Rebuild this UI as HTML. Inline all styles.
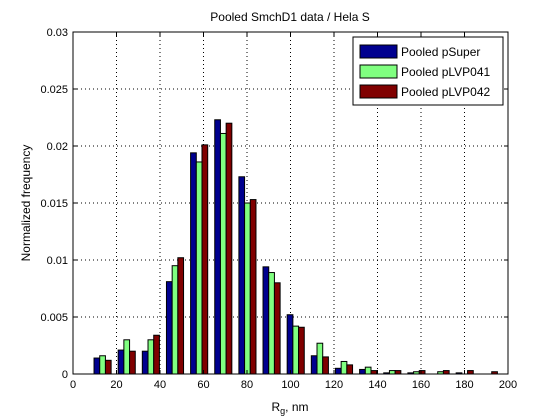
<!DOCTYPE html>
<html><head><meta charset="utf-8"><style>
body{margin:0;background:#fff;}
svg{display:block;font-family:"Liberation Sans",Arial,sans-serif;}
</style></head><body>
<svg id="chart" width="560" height="420" viewBox="0 0 560 420">
<rect x="0" y="0" width="560" height="420" fill="#fff"/>
<text x="290" y="21" font-size="12" text-anchor="middle">Pooled SmchD1 data / Hela S</text>
<g id="grid"></g>
<g id="bars"></g>
<rect x="73" y="32" width="435" height="342" fill="none" stroke="#000" stroke-width="1"/>
<g id="ticks"></g>
<text x="290" y="411" font-size="12" text-anchor="middle">R<tspan font-size="9" dy="3">g</tspan><tspan dy="-3">, nm</tspan></text>
<text transform="translate(30,203) rotate(-90)" font-size="12" text-anchor="middle">Normalized frequency</text>
<g id="legend">
<rect x="353" y="37" width="150" height="68" fill="#fff" stroke="#000"/>
</g>
</svg>
<script>
const centers=[13.6,24.7,35.8,46.9,58,69.1,80.2,91.3,102.4,113.5,124.6,135.7,146.8,157.9,169,180.1,191.2];
const seriesNames=["Pooled pSuper","Pooled pLVP041","Pooled pLVP042"];
const pSuper=[0.0014,0.0021,0.0020,0.0081,0.0194,0.0223,0.0173,0.0094,0.0052,0.0016,0.0005,0.0004,0.0001,0.0001,0,0.0001,0];
const pLVP041=[0.0016,0.0030,0.0030,0.0095,0.0186,0.0211,0.0150,0.0089,0.0042,0.0027,0.0011,0.0006,0.0003,0.0002,0.0002,0,0];
const pLVP042=[0.0012,0.0020,0.0034,0.0102,0.0201,0.0220,0.0153,0.0080,0.0041,0.0015,0.0008,0.0003,0.0003,0.0003,0.0003,0.0003,0.0002];
const xTicks=[0,20,40,60,80,100,120,140,160,180,200];
const yTicks=[0,0.005,0.01,0.015,0.02,0.025,0.03];
const yTickLabels=["0","0.005","0.01","0.015","0.02","0.025","0.03"];
const colors=["#00008f","#80ff80","#800000"];
const NS="http://www.w3.org/2000/svg";
const L=73,R=508,T=32,B=374;
const xs=v=>L+(v-0)/(200-0)*(R-L);
const ys=v=>B-(v-0)/(0.03-0)*(B-T);
function mk(tag,attrs,parent){const e=document.createElementNS(NS,tag);for(const k in attrs)e.setAttribute(k,attrs[k]);parent.appendChild(e);return e;}
const grid=document.getElementById('grid'),ticks=document.getElementById('ticks'),bars=document.getElementById('bars');
xTicks.forEach((t,i)=>{
 const x=xs(t);
 if(i>0&&i<xTicks.length-1){const g=mk('line',{x1:x,x2:x,y1:T,y2:B,stroke:'#000','stroke-dasharray':'1,3'},grid);
 
 }
 mk('line',{x1:x,x2:x,y1:B,y2:B-4,stroke:'#000'},ticks);
 mk('line',{x1:x,x2:x,y1:T,y2:T+4,stroke:'#000'},ticks);
 const tx=mk('text',{x:x,y:B+14,'font-size':11,'text-anchor':'middle'},ticks);tx.textContent=t;
 
 
});
yTicks.forEach((t,i)=>{
 const y=ys(t);
 if(i>0&&i<yTicks.length-1){const g=mk('line',{x1:L,x2:R,y1:y,y2:y,stroke:'#000','stroke-dasharray':'1,3'},grid);
 
 }
 mk('line',{x1:L,x2:L+4,y1:y,y2:y,stroke:'#000'},ticks);
 mk('line',{x1:R,x2:R-4,y1:y,y2:y,stroke:'#000'},ticks);
 const tx=mk('text',{x:L-5,y:y+4,'font-size':11,'text-anchor':'end'},ticks);tx.textContent=yTickLabels[i];
 
 
});
const series=[pSuper,pLVP041,pLVP042];
const bw=2.62;
series.forEach((s,si)=>{
 s.forEach((v,i)=>{
  const x0=xs(centers[i]+(si-1.5)*bw),x1=xs(centers[i]+(si-0.5)*bw);
  const r=mk('rect',{x:x0,y:ys(v),width:x1-x0,height:ys(0)-ys(v),fill:colors[si],stroke:'#000','stroke-width':1},bars);
  
  
 });
});
const lg=document.getElementById('legend');
seriesNames.forEach((n,i)=>{
 const y=45+i*20;
 const sw=mk('rect',{x:360,y:y,width:37,height:13,fill:colors[i],stroke:'#000'},lg);
 
 
 const t=mk('text',{x:401,y:y+11,'font-size':12},lg);t.textContent=n;
 
 
});
</script>
</body></html>
